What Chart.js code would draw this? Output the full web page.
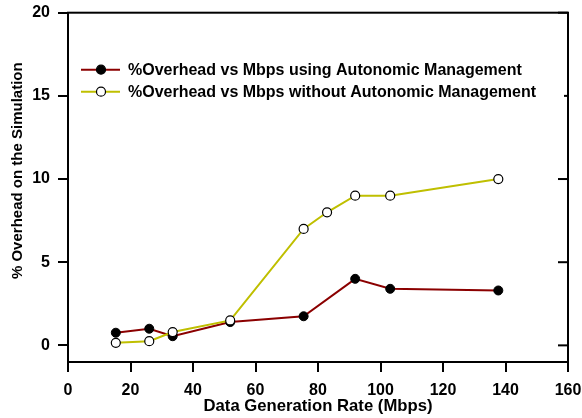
<!DOCTYPE html>
<html>
<head>
<meta charset="utf-8">
<script src="https://cdn.jsdelivr.net/npm/chart.js@4/dist/chart.umd.min.js"></script>
<style>
  html, body { margin: 0; padding: 0; background: #fff; }
  #wrap { width: 582px; height: 418px; }
</style>
</head>
<body>
<div id="wrap"><canvas id="overhead"></canvas></div>
<script>
// Mbps and % overhead for each run
var mbpsAuto = [15.3, 26.0, 33.5, 51.9, 75.4, 91.9, 103.1, 137.7];
var overheadAuto = [0.76, 1.0, 0.55, 1.4, 1.75, 4.0, 3.4, 3.3];

var mbpsNoAuto = [15.3, 26.0, 33.5, 51.9, 75.4, 82.9, 91.9, 103.1, 137.7];
var overheadNoAuto = [0.15, 0.25, 0.8, 1.5, 7.0, 8.0, 9.0, 9.0, 10.0];

var yTickValues = [0, 5, 10, 15, 20];

var seriesLabels = ['%Overhead vs Mbps using Autonomic Management',
                    '%Overhead vs Mbps without Autonomic Management'];
var xTitle = 'Data Generation Rate (Mbps)';
var yTitle = '% Overhead on the Simulation';

var FONT = "'Liberation Sans', Arial, sans-serif";
var bold16 = { family: FONT, size: 16, weight: 'bold' };

function toPoints(xs, ys) {
    return xs.map(function (x, i) { return { x: x, y: ys[i] }; });
}

// box around the plot, inward ticks on the right, y title and legend
var frame = {
    id: 'frame',
    afterDraw: function (chart) {
        var ctx = chart.ctx;
        var a = chart.chartArea;
        var y = chart.scales.y;
        ctx.save();
        ctx.strokeStyle = '#000';
        ctx.lineWidth = 2;
        ctx.strokeRect(a.left, a.top, a.right - a.left, a.bottom - a.top);
        y.ticks.forEach(function (t) {
            var py = y.getPixelForValue(t.value);
            ctx.beginPath();
            ctx.moveTo(a.right - 10, py);
            ctx.lineTo(a.right, py);
            ctx.stroke();
        });

        // y axis title
        ctx.fillStyle = '#000';
        ctx.font = 'bold 15px ' + FONT;
        ctx.textAlign = 'center';
        ctx.textBaseline = 'middle';
        ctx.translate(18, y.getPixelForValue(10.5));
        ctx.rotate(-Math.PI / 2);
        ctx.fillText(yTitle, 0, 0);
        ctx.restore();

        // legend, on a white box
        ctx.save();
        ctx.fillStyle = '#fff';
        ctx.fillRect(a.left + 8, a.top + 45, a.right - a.left - 12, 46);
        chart.data.datasets.forEach(function (ds, i) {
            var ly = a.top + 57 + i * 22;
            var lx = a.left + 13;
            ctx.strokeStyle = ds.borderColor;
            ctx.lineWidth = 2;
            ctx.beginPath();
            ctx.moveTo(lx, ly);
            ctx.lineTo(lx + 39, ly);
            ctx.stroke();
            ctx.beginPath();
            ctx.arc(lx + 20, ly, 4.5, 0, Math.PI * 2);
            ctx.fillStyle = ds.pointBackgroundColor;
            ctx.fill();
            ctx.lineWidth = 1.2;
            ctx.strokeStyle = '#000';
            ctx.stroke();
            ctx.fillStyle = '#000';
            ctx.font = 'bold 16px ' + FONT;
            ctx.textAlign = 'left';
            ctx.textBaseline = 'middle';
            ctx.fillText(ds.label, lx + 47, ly + 1);
        });
        ctx.restore();
    }
};

var chart = new Chart(document.getElementById('overhead').getContext('2d'), {
    type: 'line',
    data: {
        datasets: [{
            label: seriesLabels[0],
            data: toPoints(mbpsAuto, overheadAuto),
            borderColor: '#8b0000',
            borderWidth: 2,
            pointRadius: 4.5,
            pointBorderWidth: 1,
            pointBorderColor: '#000',
            pointBackgroundColor: '#000',
            order: 1
        }, {
            label: seriesLabels[1],
            data: toPoints(mbpsNoAuto, overheadNoAuto),
            borderColor: '#bfbf00',
            borderWidth: 2,
            pointRadius: 4.5,
            pointBorderWidth: 1.2,
            pointBorderColor: '#000',
            pointBackgroundColor: '#fff',
            order: 0
        }]
    },
    options: {
        responsive: true,
        maintainAspectRatio: false,
        animation: false,
        layout: { padding: { top: 12.7, right: 14, left: 0, bottom: 0 } },
        plugins: {
            legend: { display: false },
            tooltip: { enabled: false }
        },
        scales: {
            x: {
                type: 'linear',
                min: 0,
                max: 160,
                afterFit: function (s) {
                    s.height = 56;
                    s.paddingLeft = 0;
                    s.paddingRight = 0;
                },
                ticks: {
                    stepSize: 20,
                    padding: 9,
                    color: '#000',
                    font: bold16
                },
                grid: { drawOnChartArea: false, tickLength: 10, color: '#000', lineWidth: 2 },
                border: { color: '#000', width: 2 },
                title: {
                    display: true,
                    text: xTitle,
                    color: '#000',
                    padding: { top: 0, bottom: 1.5 },
                    font: { family: FONT, size: 16.7, weight: 'bold' }
                }
            },
            y: {
                min: -1,
                max: 20,
                afterFit: function (s) {
                    s.width = 68;
                    s.paddingTop = 0;
                    s.paddingBottom = 0;
                },
                afterBuildTicks: function (s) {
                    s.ticks = yTickValues.map(function (v) { return { value: v }; });
                },
                ticks: {
                    padding: 8,
                    color: '#000',
                    font: bold16
                },
                grid: { drawOnChartArea: false, tickLength: 10, color: '#000', lineWidth: 2 },
                border: { color: '#000', width: 2 }
            }
        }
    },
    plugins: [frame]
});
</script>
</body>
</html>
